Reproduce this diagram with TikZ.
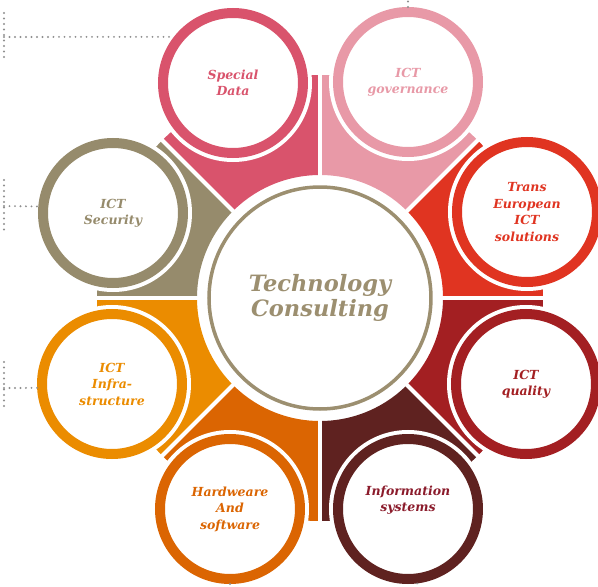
\documentclass[tikz,border=0pt]{standalone}
\usepackage{fontspec}
\setmainfont{DejaVu Serif}
\definecolor{sdcol}{HTML}{D9536C}
\definecolor{govcol}{HTML}{E899A7}
\definecolor{trcol}{HTML}{E03421}
\definecolor{qcol}{HTML}{A31F22}
\definecolor{iscol}{HTML}{5F2220}
\definecolor{istext}{HTML}{8B1B2B}
\definecolor{hwcol}{HTML}{DB6502}
\definecolor{infcol}{HTML}{EB8C00}
\definecolor{seccol}{HTML}{968B6C}
\definecolor{tccol}{HTML}{9C8F70}
\definecolor{leadcol}{HTML}{8F8F8F}
\tikzset{
  ring/.style={circle, draw=#1, line width=10pt, minimum size=140pt, inner sep=0pt,
    fill=white, text=#1, align=center, preaction={draw=white, line width=18pt},
    font=\bfseries\itshape\fontsize{12.5}{16.5}\selectfont},
  leader/.style={draw=leadcol, line width=2.1pt, line cap=round, dash pattern=on 0pt off 5.5pt},
}
\begin{document}
\begin{tikzpicture}[x=1pt, y=1pt]
    \useasboundingbox (-320,-289) rectangle (278,298);

    % Settori
    \foreach \a/\col in {0/trcol, 45/govcol, 90/sdcol, 135/seccol, 180/infcol, 225/hwcol, 270/iscol, 315/qcol}
        \fill[\col] (\a:123) arc[start angle=\a, end angle=\a+45, radius=123] -- (\a+45:223)
            arc[start angle=\a+45, end angle=\a, radius=223] -- cycle;
    \foreach \a in {0,45,...,315}
        \draw[white, line width=4pt] (\a:115) -- (\a:235);

    % Cerchio centrale
    \node[circle, draw=tccol, line width=3.5pt, minimum size=222pt, fill=white, text=tccol, align=center,
        font=\bfseries\itshape\fontsize{22.5}{25}\selectfont] (c_tc) at (0,0) {Technology\\Consulting};

    % Cerchi esterni
    \node[ring=sdcol] (c_sd) at (-87,215) {Special\\Data};
    \node[ring=govcol] (c_gov) at (88,216) {ICT\\governance};
    \node[ring=trcol] (c_tr) at (207,86) {Trans\\European\\ICT\\solutions};
    \node[ring=qcol] (c_q) at (206,-86) {ICT\\quality};
    \node[ring=iscol, text=istext, text depth=21pt] (c_is) at (88,-211) {Information\\systems};
    \node[ring=hwcol] (c_hw) at (-90,-211) {Hardweare\\And\\software};
    \node[ring=infcol] (c_inf) at (-208,-86) {ICT\\Infra-\\structure};
    \node[ring=seccol] (c_sec) at (-207,85) {ICT\\Security};

    % Linee puntinate
    \coordinate (l_sd_top) at (-316,285);
    \coordinate (l_sd_bot) at (-316,236);
    \coordinate (l_sd) at (-316,261);
    \coordinate (l_sec_top) at (-316,118);
    \coordinate (l_sec_bot) at (-316,68);
    \coordinate (l_sec) at (-316,92);
    \coordinate (l_inf_top) at (-316,-64);
    \coordinate (l_inf_bot) at (-316,-112);
    \coordinate (l_inf) at (-316,-90);
    \coordinate (l_gov) at (88,298);
    \coordinate (l_hw) at (-90,-289);
    \coordinate (l_is) at (97,-289);
    \draw[leader] (l_sd_top) -- (l_sd_bot);
    \draw[leader] (l_sd) -- (c_sd.142);
    \draw[leader] (l_sec_top) -- (l_sec_bot);
    \draw[leader] (l_sec) -- (c_sec.175);
    \draw[leader] (l_inf_top) -- (l_inf_bot);
    \draw[leader] (l_inf) -- (c_inf.183);
    \draw[leader] (c_gov.north) -- (l_gov);
    \draw[leader] (c_hw.south) -- (l_hw);
    \draw[leader] (c_is.-83) -- (l_is);
\end{tikzpicture}
\end{document}
